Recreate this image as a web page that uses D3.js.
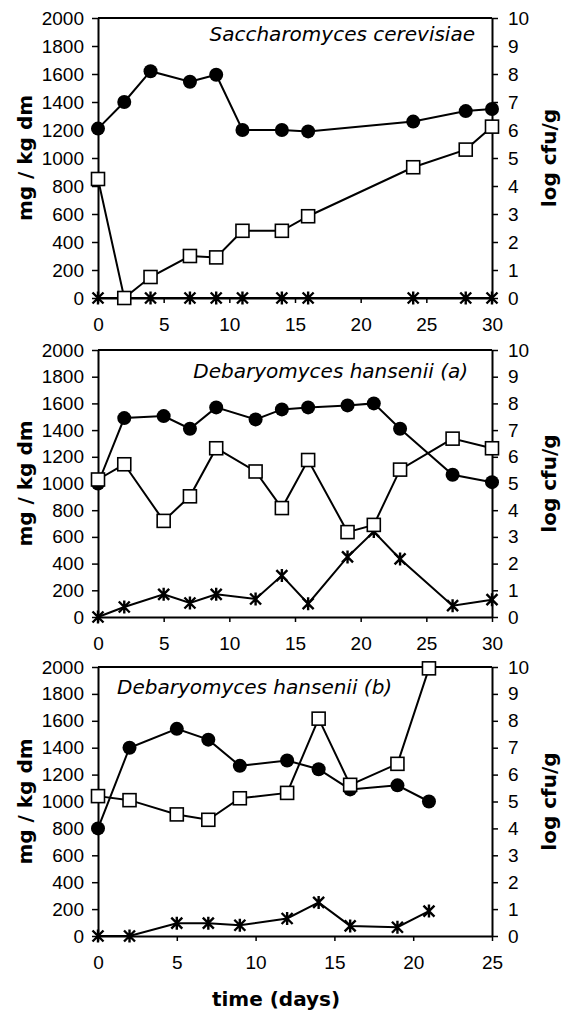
<!DOCTYPE html>
<html>
<head>
<meta charset="utf-8">
<script src="https://cdn.jsdelivr.net/npm/d3@7"></script>
<style>
  body { margin: 0; background: #fff; }
  svg { display: block; }
  .ttl { font-family: "DejaVu Sans", Verdana, sans-serif; font-weight: bold; font-size: 20px; }
  .sp { font-family: "DejaVu Sans", Verdana, sans-serif; font-style: italic; font-size: 20px; }
</style>
</head>
<body>
<svg id="chart" width="566" height="1013"></svg>
<script>

// panel 1 - Saccharomyces cerevisiae
var daysSc   = [0, 2, 4, 7, 9, 11, 14, 16, 24, 28, 30];
var circleSc = [1210, 1400, 1620, 1545, 1595, 1200, 1200, 1190, 1260, 1335, 1350];
var squareSc = [4.25, 0, 0.75, 1.5, 1.45, 2.4, 2.4, 2.92, 4.67, 5.3, 6.12];
var starSc   = [0, 0, 0, 0, 0, 0, 0, 0, 0, 0, 0];

// panel 2 - Debaryomyces hansenii (a)
var daysDa   = [0, 2, 5, 7, 9, 12, 14, 16, 19, 21, 23, 27, 30];
var circleDa = [1000, 1490, 1505, 1410, 1570, 1480, 1555, 1570, 1585, 1600, 1410, 1065, 1010];
var squareDa = [5.15, 5.72, 3.6, 4.52, 6.32, 5.45, 4.08, 5.88, 3.18, 3.45, 5.52, 6.68, 6.32];
var starDa   = [0, 75, 170, 105, 170, 135, 310, 100, 450, 640, 435, 85, 130];

// panel 3 - Debaryomyces hansenii (b)
var daysDb   = [0, 2, 5, 7, 9, 12, 14, 16, 19, 21];
var circleDb = [800, 1400, 1540, 1460, 1265, 1305, 1240, 1090, 1120, 1000];
var squareDb = [5.2, 5.05, 4.52, 4.32, 5.12, 5.32, 8.08, 5.62, 6.4, 9.95];
var starDb   = [0, 0, 95, 95, 80, 130, 250, 75, 65, 185];

var titles   = ['Saccharomyces cerevisiae', 'Debaryomyces hansenii (a)', 'Debaryomyces hansenii (b)'];
var mgTicks  = [0, 200, 400, 600, 800, 1000, 1200, 1400, 1600, 1800, 2000];
var logTicks = [0, 1, 2, 3, 4, 5, 6, 7, 8, 9, 10];
var dayTicks30 = [0, 5, 10, 15, 20, 25, 30];
var dayTicks25 = [0, 5, 10, 15, 20, 25];

var panels = [
  { days: daysSc, circle: circleSc, square: squareSc, star: starSc, xmax: 30, xt: dayTicks30,
    top: 18, bottom: 298, title: titles[0], tx: 475, ty: 41, anchor: 'end' },
  { days: daysDa, circle: circleDa, square: squareDa, star: starDa, xmax: 30, xt: dayTicks30,
    top: 350, bottom: 617, title: titles[1], tx: 468, ty: 378, anchor: 'end' },
  { days: daysDb, circle: circleDb, square: squareDb, star: starDb, xmax: 25, xt: dayTicks25,
    top: 667, bottom: 936, title: titles[2], tx: 117, ty: 694, anchor: 'start' }
];

var left = 98, right = 492;
var svg = d3.select('#chart');

// X with a vertical bar, like the spreadsheet star marker
function starPath(s) {
  return 'M' + (-s) + ',' + (-s) + 'L' + s + ',' + s +
         'M' + (-s) + ',' + s + 'L' + s + ',' + (-s) +
         'M0,' + (-s - 1) + 'L0,' + (s + 1);
}

panels.forEach(function(p) {
  var x = d3.scaleLinear().domain([0, p.xmax]).range([left, right]);
  var y = d3.scaleLinear().domain([0, 2000]).range([p.bottom, p.top]);
  var y2 = d3.scaleLinear().domain([0, 10]).range([p.bottom, p.top]);

  var g = svg.append('g');

  // top frame line
  g.append('line')
    .attr('x1', left).attr('x2', right)
    .attr('y1', p.top).attr('y2', p.top)
    .attr('stroke', '#000').attr('stroke-width', 2);

  var ax = g.append('g').attr('transform', 'translate(0,' + p.bottom + ')')
    .call(d3.axisBottom(x).tickValues(p.xt).tickFormat(d3.format('d'))
      .tickSize(5).tickSizeOuter(0).tickPadding(15));
  var al = g.append('g').attr('transform', 'translate(' + left + ',0)')
    .call(d3.axisLeft(y).tickValues(mgTicks).tickFormat(d3.format('d'))
      .tickSize(6).tickSizeOuter(0).tickPadding(8));
  var ar = g.append('g').attr('transform', 'translate(' + right + ',0)')
    .call(d3.axisRight(y2).tickValues(logTicks).tickFormat(d3.format('d'))
      .tickSize(6).tickSizeOuter(0).tickPadding(10));

  [ax, al, ar].forEach(function(a) {
    a.select('.domain').attr('stroke-width', 2);
    a.selectAll('.tick line').attr('stroke-width', 1.5);
    a.selectAll('.tick text')
      .attr('font-family', '"Liberation Sans", Arial, sans-serif')
      .attr('font-size', 19).attr('fill', '#000');
  });

  var line = d3.line().x(function(d) { return x(d[0]); }).y(function(d) { return d[1]; });

  var starPts = p.days.map(function(d, i) { return [d, y(p.star[i])]; });
  var circPts = p.days.map(function(d, i) { return [d, y(p.circle[i])]; });
  var sqPts   = p.days.map(function(d, i) { return [d, y2(p.square[i])]; });

  [starPts, circPts, sqPts].forEach(function(pts) {
    g.append('path').attr('d', line(pts))
      .attr('fill', 'none').attr('stroke', '#000').attr('stroke-width', 2);
  });

  g.selectAll('.star').data(starPts).enter().append('path')
    .attr('transform', function(d) { return 'translate(' + x(d[0]) + ',' + d[1] + ')'; })
    .attr('d', starPath(5.5))
    .attr('stroke', '#000').attr('stroke-width', 2.4).attr('fill', 'none');

  g.selectAll('.circ').data(circPts).enter().append('circle')
    .attr('cx', function(d) { return x(d[0]); })
    .attr('cy', function(d) { return d[1]; })
    .attr('r', 7).attr('fill', '#000');

  g.selectAll('.sq').data(sqPts).enter().append('rect')
    .attr('x', function(d) { return x(d[0]) - 6.5; })
    .attr('y', function(d) { return d[1] - 6.5; })
    .attr('width', 13).attr('height', 13)
    .attr('fill', '#fff').attr('stroke', '#000').attr('stroke-width', 1.6);

  g.append('text').attr('class', 'sp')
    .attr('x', p.tx).attr('y', p.ty).attr('text-anchor', p.anchor)
    .text(p.title);

  var cy = (p.top + p.bottom) / 2;
  g.append('text').attr('class', 'ttl')
    .attr('transform', 'translate(32,' + cy + ') rotate(-90)')
    .attr('text-anchor', 'middle')
    .text('mg / kg dm');
  g.append('text').attr('class', 'ttl')
    .attr('transform', 'translate(556,' + cy + ') rotate(-90)')
    .attr('text-anchor', 'middle')
    .text('log cfu/g');
});

svg.append('text').attr('class', 'ttl')
  .attr('x', 276).attr('y', 1006)
  .attr('text-anchor', 'middle')
  .text('time (days)');

</script>
</body>
</html>
